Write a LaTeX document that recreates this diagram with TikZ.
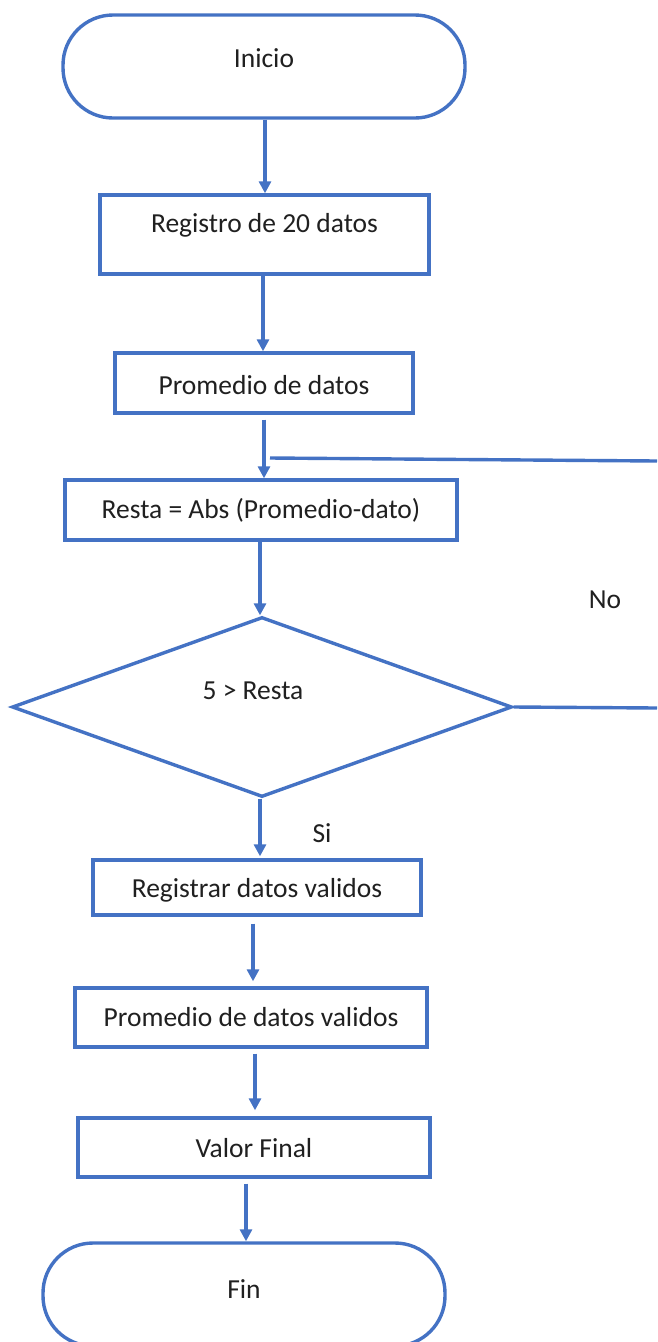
\documentclass[tikz,border=0pt]{standalone}
\usepackage{fontspec}
\setmainfont{Carlito}
\usetikzlibrary{arrows.meta,shapes.geometric}
\definecolor{flowblue}{HTML}{4472C4}
\definecolor{ink}{HTML}{202020}
\begin{document}
\begin{tikzpicture}[x=1pt,y=-1pt,
  shapeline/.style={draw=flowblue,line width=3.4pt},
  terminal/.style={shapeline,rectangle,rounded corners=50pt,inner sep=0pt},
  procbox/.style={shapeline,rectangle,inner sep=0pt},
  decision/.style={shapeline,diamond,inner sep=0pt},
  txt/.style={text=ink,font=\fontsize{27.5}{32}\selectfont,inner sep=0pt},
  arr/.style={flowblue,line width=3.4pt,-{Triangle[width=12pt,length=12pt]}},
  link/.style={flowblue,line width=3.4pt}]
\useasboundingbox (0,0) rectangle (657,1342);
\fill[white] (0,0) rectangle (657,1342);

% start terminal
\node[terminal,minimum width=402pt,minimum height=103pt] (start) at (264,66.5) {};
\node[txt] (tstart) at (264,58) {Inicio};

% process boxes
\node[procbox,minimum width=329pt,minimum height=79pt] (reg) at (264.5,234.5) {};
\node[txt] (treg) at (264.5,225) {Registro de 20 datos};

\node[procbox,minimum width=298pt,minimum height=60pt] (prom) at (264,383) {};
\node[txt] (tprom) at (264,385) {Promedio de datos};

\node[procbox,minimum width=392pt,minimum height=60pt] (resta) at (261,510) {};
\node[txt] (tresta) at (261,510) {Resta = Abs (Promedio-dato)};

% decision
\node[decision,minimum width=500pt,minimum height=180pt,aspect=2.78] (dec) at (262,707) {};
\node[txt] (tdec) at (253,691) {5 > Resta};

\node[procbox,minimum width=328pt,minimum height=55pt] (regv) at (257,887.5) {};
\node[txt] (tregv) at (257,890) {Registrar datos validos};

\node[procbox,minimum width=352pt,minimum height=59pt] (promv) at (251,1017.5) {};
\node[txt] (tpromv) at (251,1017) {Promedio de datos validos};

\node[procbox,minimum width=352pt,minimum height=59pt] (valor) at (254,1147.5) {};
\node[txt] (tvalor) at (254,1148) {Valor Final};

% end terminal
\node[terminal,minimum width=402pt,minimum height=103pt] (fin) at (244,1294.5) {};
\node[txt] (tfin) at (244,1289) {Fin};

% branch labels
\node[txt] (lno) at (605,600) {No};
\node[txt] (lsi) at (322,833) {Si};

% main flow
\draw[arr] (start.south -| 265,0) -- (reg.north -| 265,0);
\draw[arr] (reg.south -| 263,0) -- (prom.north -| 263,0);
\draw[arr] ([yshift=-5pt]prom.south -| 264,0) -- (resta.north -| 264,0);
\draw[arr] (resta.south -| 260,0) -- (dec.north -| 260,0);
\draw[arr] (dec.south -| 260,0) -- ([yshift=2pt]regv.north -| 260,0);
\draw[arr] ([yshift=-7pt]regv.south -| 253,0) -- ([yshift=5pt]promv.north -| 253,0);
\draw[arr] ([yshift=-5pt]promv.south -| 255,0) -- ([yshift=6pt]valor.north -| 255,0);
\draw[arr] ([yshift=-5pt]valor.south -| 246,0) -- (fin.north -| 246,0);

% loop-back lines running off to the right
\coordinate (join) at (270,458);
\coordinate (edgeA) at (657,461);
\coordinate (edgeB) at (657,708);
\draw[link] (join) -- (edgeA);
\draw[link] (dec.east) -- (edgeB);
\end{tikzpicture}
\end{document}
